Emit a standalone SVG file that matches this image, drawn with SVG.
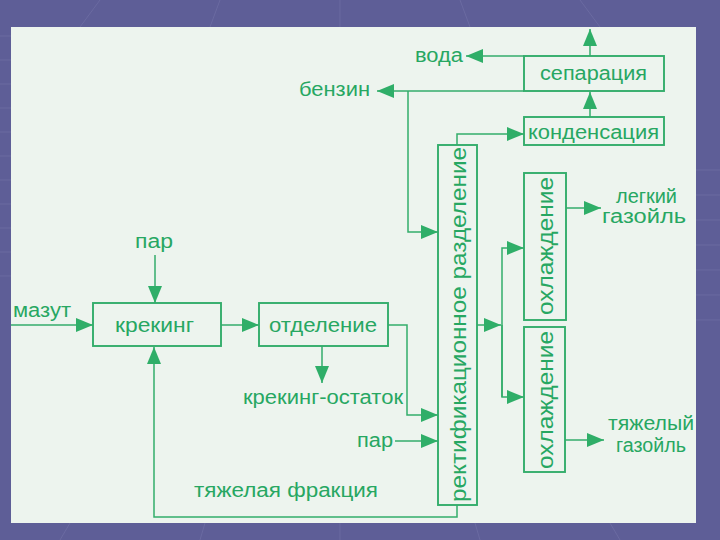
<svg xmlns="http://www.w3.org/2000/svg" width="720" height="540" viewBox="0 0 720 540">
<defs>
<marker id="ah" markerUnits="userSpaceOnUse" markerWidth="19" markerHeight="15" refX="17" refY="7" orient="auto">
<path d="M0,0 L17,7 L0,14 z" fill="#2fae68"/>
</marker>
<style>
.box{fill:none;stroke:#33ad6b;stroke-width:1.9}
.ar{fill:none;stroke:#33ad6b;stroke-width:1.5;marker-end:url(#ah)}
text{font-family:"Liberation Sans",Arial,sans-serif;font-size:20px;fill:#27a762}
.vt{font-size:22px}
.bg-line{stroke:#7373a8;stroke-width:1;fill:none;opacity:0.6}
</style>
</defs>
<rect x="0" y="0" width="720" height="540" fill="#5e5e97"/>
<g class="bg-line">
<path d="M0,36 H11 M0,60 H11 M0,84 H11 M0,108 H11 M0,132 H11 M0,156 H11 M0,180 H11 M0,204 H11 M0,228 H11 M0,252 H11 M0,276 H11"/>
<path d="M696,170 H720 M696,195 H720 M696,220 H720 M696,245 H720 M696,270 H720 M696,295 H720 M696,320 H720"/>
<path d="M100,0 L80,27 M220,0 L210,27 M340,0 L340,27 M460,0 L470,27 M580,0 L600,27"/>
<path d="M60,540 L70,523 M200,540 L205,523 M340,540 L340,523 M480,540 L475,523 M620,540 L610,523"/>
</g>
<rect x="11" y="27" width="685" height="496" fill="#edf4ee"/>

<g id="connectors">
<line class="ar" x1="590" y1="56" x2="590" y2="29"/>
<polyline class="ar" points="524,56 466,56"/>
<polyline class="ar" points="524,91 377,91"/>
<line class="ar" x1="590" y1="117" x2="590" y2="92"/>
<polyline class="ar" points="457,145 457,134 524,134"/>
<polyline class="ar" points="408,91 408,232 438,232"/>
<line class="ar" x1="155" y1="255" x2="155" y2="303"/>
<line class="ar" x1="11" y1="325" x2="93" y2="325"/>
<line class="ar" x1="221" y1="325" x2="259" y2="325"/>
<line class="ar" x1="322" y1="346" x2="322" y2="383"/>
<polyline class="ar" points="388,325 407,325 407,415 438,415"/>
<line class="ar" x1="395" y1="441" x2="438" y2="441"/>
<polyline class="ar" points="457,505 457,517 154,517 154,347"/>
<line class="ar" x1="477" y1="325" x2="501" y2="325"/>
<polyline class="ar" points="502,397 502,248 524,248"/>
<polyline class="ar" points="502,325 502,397 524,397"/>
<line class="ar" x1="566" y1="208" x2="601" y2="208"/>
<line class="ar" x1="565" y1="440" x2="604" y2="440"/>
</g>

<g id="separation"><rect class="box" x="524" y="56" width="140" height="35"/><text x="540" y="80" textLength="107" lengthAdjust="spacingAndGlyphs">сепарация</text></g>
<g id="condensation"><rect class="box" x="524" y="117" width="140" height="28"/><text x="528" y="139" textLength="131" lengthAdjust="spacingAndGlyphs">конденсация</text></g>
<g id="cracking"><rect class="box" x="93" y="303" width="128" height="43"/><text x="115" y="332" textLength="79" lengthAdjust="spacingAndGlyphs">крекинг</text></g>
<g id="separation2"><rect class="box" x="259" y="303" width="129" height="43"/><text x="269" y="332" textLength="108" lengthAdjust="spacingAndGlyphs">отделение</text></g>
<g id="rectification"><rect class="box" x="438" y="145" width="39" height="360"/><text class="vt" transform="translate(466,502) rotate(-90)" x="0" y="0" textLength="355" lengthAdjust="spacingAndGlyphs">ректификационное разделение</text></g>
<g id="cooling1"><rect class="box" x="524" y="173" width="42" height="147"/><text class="vt" transform="translate(553,315) rotate(-90)" x="0" y="0" textLength="138" lengthAdjust="spacingAndGlyphs">охлаждение</text></g>
<g id="cooling2"><rect class="box" x="524" y="327" width="41" height="145"/><text class="vt" transform="translate(553,469) rotate(-90)" x="0" y="0" textLength="138" lengthAdjust="spacingAndGlyphs">охлаждение</text></g>

<g id="labels">
<text x="415" y="62" textLength="48" lengthAdjust="spacingAndGlyphs">вода</text>
<text x="299" y="96" textLength="71" lengthAdjust="spacingAndGlyphs">бензин</text>
<text x="616" y="203" textLength="61" lengthAdjust="spacingAndGlyphs">легкий</text>
<text x="602" y="223" textLength="84" lengthAdjust="spacingAndGlyphs">газойль</text>
<text x="135" y="248" textLength="38" lengthAdjust="spacingAndGlyphs">пар</text>
<text x="13" y="317" textLength="58" lengthAdjust="spacingAndGlyphs">мазут</text>
<text x="243" y="404" textLength="160" lengthAdjust="spacingAndGlyphs">крекинг-остаток</text>
<text x="357" y="447" textLength="36" lengthAdjust="spacingAndGlyphs">пар</text>
<text x="194" y="497" textLength="184" lengthAdjust="spacingAndGlyphs">тяжелая фракция</text>
<text x="608" y="430" textLength="86" lengthAdjust="spacingAndGlyphs">тяжелый</text>
<text x="616" y="452" textLength="70" lengthAdjust="spacingAndGlyphs">газойль</text>
</g>
</svg>
